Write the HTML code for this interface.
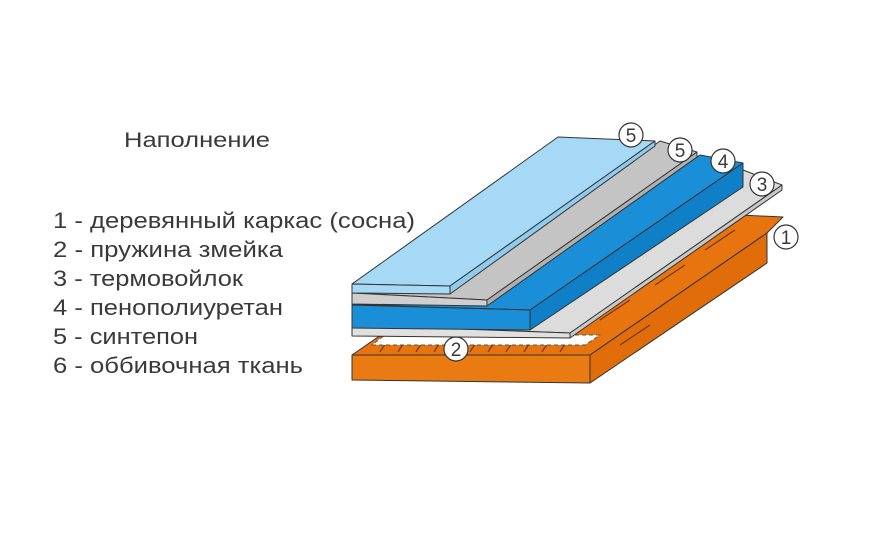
<!DOCTYPE html>
<html><head><meta charset="utf-8"><style>
html,body{margin:0;padding:0;background:#fff;}
svg{display:block}
text{font-family:"Liberation Sans",sans-serif;fill:#3a3a3a}
</style></head><body>
<svg width="880" height="550" viewBox="0 0 880 550" xmlns="http://www.w3.org/2000/svg">
<rect width="880" height="550" fill="#fff"/>
<text x="124" y="147" font-size="21" textLength="146" lengthAdjust="spacingAndGlyphs">Наполнение</text>
<g font-size="22">
<text x="53" y="228" textLength="362" lengthAdjust="spacingAndGlyphs">1 - деревянный каркас (сосна)</text>
<text x="53" y="257" textLength="230" lengthAdjust="spacingAndGlyphs">2 - пружина змейка</text>
<text x="53" y="286" textLength="190" lengthAdjust="spacingAndGlyphs">3 - термовойлок</text>
<text x="53" y="315" textLength="230" lengthAdjust="spacingAndGlyphs">4 - пенополиуретан</text>
<text x="53" y="344" textLength="145" lengthAdjust="spacingAndGlyphs">5 - синтепон</text>
<text x="53" y="373" textLength="250" lengthAdjust="spacingAndGlyphs">6 - оббивочная ткань</text>
</g>
<g stroke="#333" stroke-width="1" stroke-linejoin="round">
<polygon points="352,355 378,337 740,215 783,217 767,233 590,355" fill="#e8740f"/>
<polygon points="352,355 590,355 590,383 352,380" fill="#ea7a12"/>
<polygon points="590,355 767,233 767,263 590,383" fill="#e06c0a"/>
<g fill="none" stroke="#6b3a10" stroke-width="1.2">
<path d="M380,352 q8,-14 16,-14 M398,352 q8,-14 16,-14 M416,352 q8,-14 16,-14 M434,352 q8,-14 16,-14 M470,352 q8,-14 16,-14 M488,352 q8,-14 16,-14 M506,352 q8,-14 16,-14 M524,352 q8,-14 16,-14 M542,352 q8,-14 16,-14 M560,352 q8,-14 16,-14"/>
<path d="M600,320 l30,-20 M655,285 l30,-20 M705,250 l30,-20 M620,345 l30,-20"/>
</g>
<polygon points="372,345 585,345 600,335 385,335" fill="#fff" stroke="#555" stroke-dasharray="4,3"/>
<polygon points="352,325 530,325 743,170 782,185 570,333" fill="#dcdcdc"/>
<polygon points="352,325 570,333 570,338 352,336" fill="#e0e0e0"/>
<polygon points="570,333 782,185 782,190 570,338" fill="#c8c8c8"/>
<polygon points="352,305 487,305 700,155 743,163 530,310" fill="#1a8fd8"/>
<polygon points="352,305 530,310 530,330 352,328" fill="#1a8fd8"/>
<polygon points="530,310 743,163 743,187 530,330" fill="#0f7fc8"/>
<polygon points="352,293 450,293 660,141 697,152 487,300" fill="#c4c4c4"/>
<polygon points="352,293 487,300 487,306 352,304" fill="#cfcfcf"/>
<polygon points="487,300 697,152 697,157 487,306" fill="#b0b0b0"/>
<polygon points="352,284 558,137 655,141 450,286" fill="#a5d9f5"/>
<polygon points="352,284 450,286 450,294 352,293" fill="#a5d9f5"/>
<polygon points="450,286 655,141 655,146 450,294" fill="#8ecbee"/>
</g>
<g fill="#fff" stroke="#333" stroke-width="1.2">
<circle cx="631" cy="135" r="12"/><circle cx="680" cy="150" r="12"/>
<circle cx="723" cy="161" r="12"/><circle cx="762" cy="184" r="12"/>
<circle cx="786" cy="237" r="12"/><circle cx="456" cy="349" r="12"/>
</g>
<g font-size="19" text-anchor="middle">
<text x="631" y="142">5</text><text x="680" y="157">5</text>
<text x="723" y="168">4</text><text x="762" y="191">3</text>
<text x="786" y="244">1</text><text x="456" y="356">2</text>
</g>
</svg>
</body></html>
